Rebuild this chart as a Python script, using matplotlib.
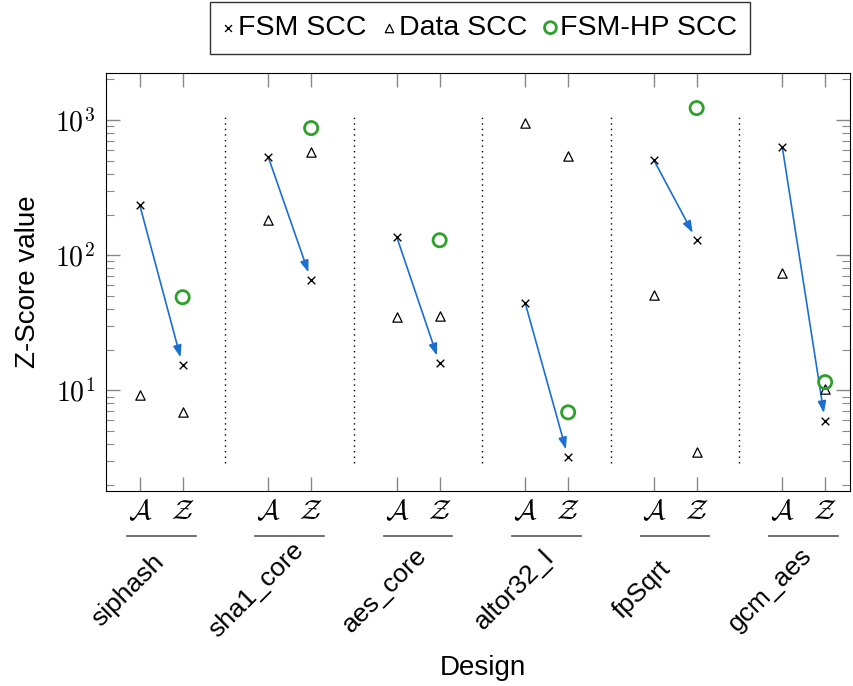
import numpy as np
import matplotlib
matplotlib.use("Agg")
import matplotlib.pyplot as plt
from matplotlib.ticker import FixedLocator, FuncFormatter, LogLocator, NullFormatter
import matplotlib.transforms as mtransforms

plt.rcParams['font.family'] = ['Liberation Sans', 'DejaVu Sans']
plt.rcParams['mathtext.fontset'] = 'cm'

designs = ['siphash', 'sha1_core', 'aes_core', 'altor32_l', 'fpSqrt', 'gcm_aes']
fsm_a = [234, 532, 136, 44, 506, 631]
fsm_z = [15.3, 65.3, 15.8, 3.19, 129, 5.9]
data_a = [9.3, 181, 34.8, 950, 50.6, 73.6]
data_z = [6.9, 580, 35.3, 541, 3.47, 10.2]
hp_z = [48.9, 872, 129, 6.87, 1227, 11.5]

xa = np.arange(len(designs)) * 3
xz = xa + 1

fig = plt.figure(figsize=(8.54, 6.86), dpi=100)
ax = fig.add_axes([0.1241, 0.2843, 0.8712, 0.6093])
ax.set_yscale('log')
ax.set_ylim(1.8, 2230)
ax.set_xlim(-0.79, 16.58)

blue = '#1a6fd0'
green = '#2ea02c'

# separators between designs
for x in xa[1:] - 1:
    ax.axvline(x, ymin=0.067, ymax=0.904, color='black', ls=(0, (1, 3)), lw=1)

# arrows FSM A -> FSM Z
for i in range(len(designs)):
    ax.annotate('', xy=(xz[i], fsm_z[i]), xytext=(xa[i], fsm_a[i]),
                arrowprops=dict(arrowstyle='-|>,head_length=0.7,head_width=0.25',
                                color=blue, lw=1.2, shrinkA=0, shrinkB=6))

ax.scatter(np.r_[xa, xz], np.r_[fsm_a, fsm_z], marker='x', s=30, color='black',
           linewidths=1, zorder=3, label='FSM SCC')
ax.scatter(np.r_[xa, xz], np.r_[data_a, data_z], marker='^', s=45, facecolor='white',
           edgecolor='black', linewidths=0.9, zorder=3, label='Data SCC')
ax.scatter(xz, hp_z, marker='o', s=90, facecolor='none', edgecolor=green,
           linewidths=2, zorder=4, label='FSM-HP SCC')

# ticks
ax.xaxis.set_major_locator(FixedLocator(np.r_[xa, xz]))
ax.set_xticks(np.r_[xa, xz])
ax.set_xticklabels([r'$\mathcal{A}$'] * len(xa) + [r'$\mathcal{Z}$'] * len(xz), fontsize=20)
ax.yaxis.set_major_locator(LogLocator(base=10, numticks=10))
ax.yaxis.set_minor_locator(LogLocator(base=10, subs=np.arange(2, 10), numticks=10))
ax.yaxis.set_major_formatter(FuncFormatter(lambda v, p: r'$10^{%d}$' % round(np.log10(v))))
ax.yaxis.set_minor_formatter(NullFormatter())
ax.tick_params(axis='both', which='both', direction='in', color='#888888', top=True, right=True)
ax.tick_params(axis='both', which='major', length=10, width=1)
ax.tick_params(axis='y', which='minor', length=6, width=0.8)
ax.tick_params(axis='y', labelsize=20, pad=8)
ax.tick_params(axis='x', pad=6)

# group brackets and names
trans = mtransforms.blended_transform_factory(ax.transData, ax.transAxes)
for i, name in enumerate(designs):
    ax.plot([xa[i] - 0.3, xz[i] + 0.3], [-0.108, -0.108], color='#555555', lw=1.2,
            transform=trans, clip_on=False)
    ax.text(xa[i] - 0.27, -0.237, name, transform=trans, rotation=45,
            rotation_mode='anchor', ha='center', va='center', fontsize=19)

ax.set_ylabel('Z-Score value', fontsize=20, labelpad=10)
fig.text(0.565, 0.026, 'Design', fontsize=20, ha='center', va='center')

leg = fig.legend(*ax.get_legend_handles_labels(), loc='center',
                 bbox_to_anchor=(0.562, 0.959), ncol=3, fontsize=20.5,
                 frameon=True, fancybox=False, edgecolor='black', handletextpad=0.15,
                 columnspacing=0.6, handlelength=0.4, borderpad=0.45, borderaxespad=0,
                 markerscale=0.9)
leg.get_frame().set_linewidth(1)

fig.savefig('out.png', dpi=100)
